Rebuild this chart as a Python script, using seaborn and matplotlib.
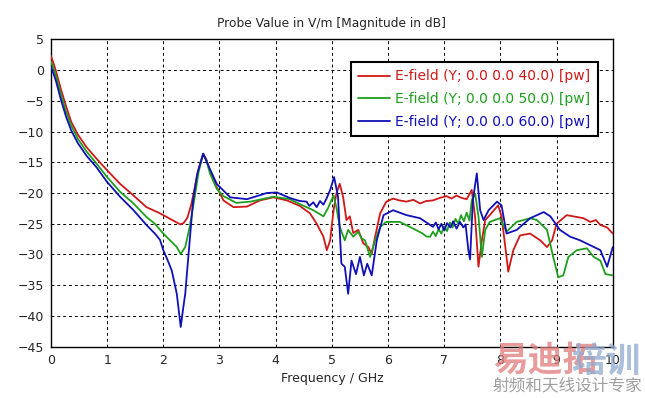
import numpy as np
import pandas as pd
import matplotlib
matplotlib.use("Agg")
import matplotlib.pyplot as plt
import seaborn as sns

# ── Données (GHz, dB) ───────────────────────────────────────────────────────
f_red = [0.0, 0.05, 0.09, 0.18, 0.27, 0.36, 0.48, 0.63, 0.81, 1.0, 1.23, 1.47,
         1.7, 1.94, 2.12, 2.2, 2.3, 2.36, 2.43, 2.5, 2.56, 2.63, 2.71, 2.77,
         2.83, 2.95, 3.07, 3.25, 3.49, 3.72, 3.96, 4.2, 4.43, 4.61, 4.73, 4.85,
         4.91, 4.97, 5.03, 5.08, 5.14, 5.2, 5.26, 5.32, 5.38, 5.47, 5.56, 5.65,
         5.71, 5.77, 5.86, 5.97, 6.09, 6.2, 6.33, 6.45, 6.57, 6.68, 6.8, 6.92,
         7.04, 7.13, 7.22, 7.31, 7.4, 7.49, 7.55, 7.61, 7.67, 7.73, 7.81, 7.96,
         8.02, 8.08, 8.14, 8.23, 8.35, 8.53, 8.71, 8.83, 8.92, 9.0, 9.18, 9.36,
         9.48, 9.6, 9.7, 9.78, 9.9, 10.0]
v_red = [2.3, 1.0, -0.2, -3.2, -5.9, -8.4, -10.5, -12.5, -14.4, -16.3, -18.5, -20.4,
         -22.3, -23.3, -24.2, -24.6, -25.1, -24.9, -24.0, -21.8, -19.1, -16.0, -13.6, -14.6,
         -16.3, -19.0, -21.2, -22.3, -22.2, -21.2, -20.7, -21.2, -22.1, -23.3, -25.0, -27.1,
         -29.3, -27.7, -22.8, -20.1, -18.5, -20.6, -24.4, -23.8, -26.5, -26.0, -28.2, -28.8,
         -29.9, -27.1, -23.3, -21.4, -20.9, -21.2, -21.4, -21.1, -21.7, -21.3, -21.2, -20.8,
         -20.5, -20.9, -20.4, -20.8, -21.0, -19.5, -23.9, -32.0, -27.7, -24.4, -23.6, -22.0,
         -23.8, -28.2, -32.8, -29.3, -26.9, -26.6, -27.7, -28.8, -27.7, -25.0, -23.6, -23.9,
         -24.1, -24.7, -24.4, -25.2, -25.6, -26.6]

f_green = [0.0, 0.05, 0.09, 0.18, 0.27, 0.36, 0.48, 0.63, 0.81, 1.0, 1.23, 1.47,
           1.7, 1.85, 2.0, 2.12, 2.24, 2.31, 2.39, 2.47, 2.56, 2.63, 2.71, 2.77,
           2.83, 2.95, 3.07, 3.3, 3.55, 3.96, 4.25, 4.43, 4.67, 4.85, 4.93, 5.03,
           5.08, 5.14, 5.23, 5.29, 5.38, 5.47, 5.53, 5.59, 5.68, 5.77, 5.86, 5.97,
           6.21, 6.45, 6.6, 6.69, 6.75, 6.8, 6.85, 6.9, 6.95, 7.0, 7.05, 7.1,
           7.15, 7.2, 7.25, 7.3, 7.35, 7.4, 7.45, 7.49, 7.55, 7.61, 7.67, 7.73,
           7.81, 7.99, 8.11, 8.29, 8.53, 8.65, 8.83, 8.94, 9.03, 9.12, 9.21, 9.36,
           9.54, 9.66, 9.78, 9.87, 10.0]
v_green = [1.4, 0.2, -1.0, -4.0, -6.8, -9.0, -11.2, -13.2, -15.2, -17.4, -19.8, -21.7,
           -23.9, -25.0, -26.6, -27.7, -28.8, -29.9, -28.8, -25.5, -20.6, -16.5, -13.6, -14.8,
           -16.8, -19.3, -20.5, -21.6, -21.4, -20.6, -21.0, -21.8, -22.8, -23.8, -22.5, -20.4,
           -22.3, -25.5, -27.7, -26.0, -27.1, -26.3, -27.4, -27.7, -30.4, -27.7, -25.5, -24.7,
           -24.7, -25.8, -26.5, -27.1, -27.1, -26.3, -27.0, -25.9, -26.6, -25.4, -26.2, -24.8,
           -25.6, -24.2, -25.0, -23.6, -24.6, -23.2, -24.5, -21.2, -20.1, -23.8, -30.4, -26.0,
           -24.7, -24.1, -26.3, -24.7, -24.1, -24.4, -26.0, -30.4, -33.7, -33.4, -30.4, -29.3,
           -29.0, -30.4, -31.0, -33.2, -33.4]

f_blue = [0.0, 0.05, 0.09, 0.18, 0.27, 0.36, 0.48, 0.63, 0.81, 1.0, 1.23, 1.47,
          1.7, 1.85, 1.94, 2.0, 2.08, 2.15, 2.24, 2.28, 2.31, 2.35, 2.39, 2.46,
          2.53, 2.6, 2.71, 2.8, 2.95, 3.19, 3.49, 3.84, 4.02, 4.25, 4.43, 4.55,
          4.6, 4.67, 4.73, 4.79, 4.85, 4.91, 4.97, 5.04, 5.11, 5.17, 5.23, 5.29,
          5.35, 5.43, 5.5, 5.57, 5.63, 5.71, 5.8, 5.92, 6.09, 6.33, 6.57, 6.8,
          6.85, 6.9, 6.95, 7.0, 7.05, 7.11, 7.16, 7.22, 7.28, 7.34, 7.38, 7.43,
          7.46, 7.51, 7.58, 7.64, 7.7, 7.79, 7.94, 8.02, 8.11, 8.29, 8.53, 8.77,
          8.89, 9.06, 9.24, 9.42, 9.6, 9.78, 9.9, 10.0]
v_blue = [0.6, -0.7, -1.8, -4.9, -7.6, -9.8, -11.9, -13.9, -15.8, -18.2, -20.6, -22.8,
          -25.2, -26.6, -27.6, -29.3, -31.0, -32.6, -36.4, -39.5, -41.8, -39.0, -36.4, -28.8,
          -21.2, -17.0, -13.6, -15.5, -18.5, -20.7, -21.0, -20.0, -19.9, -20.8, -21.3, -21.4,
          -22.1, -21.5, -22.3, -21.3, -21.9, -20.8, -19.5, -17.4, -20.6, -31.5, -32.0, -36.4,
          -31.0, -33.2, -30.4, -33.4, -31.5, -33.4, -27.7, -23.6, -22.8, -23.6, -24.1, -25.5,
          -24.8, -25.9, -25.0, -26.1, -24.9, -25.6, -24.6, -25.8, -24.7, -25.6, -25.1, -29.3,
          -30.8, -21.2, -16.8, -22.8, -24.4, -22.8, -21.4, -22.0, -26.6, -26.0, -24.1, -23.1,
          -23.8, -26.0, -27.1, -27.7, -28.5, -29.3, -32.0, -28.8]

labels = ["E-field (Y; 0.0 0.0 40.0) [pw]",
          "E-field (Y; 0.0 0.0 50.0) [pw]",
          "E-field (Y; 0.0 0.0 60.0) [pw]"]
colors = ["#d01818", "#1ea01e", "#1010b8"]

x_ticks = list(range(0, 11))
y_ticks = list(range(-45, 6, 5))

# ── Figure ──────────────────────────────────────────────────────────────────
sns.set_style("white")
plt.rcParams["font.family"] = ["DejaVu Sans"]

fig = plt.figure(figsize=(6.45, 3.98), dpi=100)
ax = fig.add_axes([0.079, 0.129, 0.871, 0.772])

series = [(f_red, v_red), (f_green, v_green), (f_blue, v_blue)]
for (fx, vy), lab, col in zip(series, labels, colors):
    df = pd.DataFrame({"f": fx, "v": vy})
    sns.lineplot(data=df, x="f", y="v", ax=ax, color=col, lw=1.3,
                 label=lab, estimator=None, sort=False, zorder=3)

ax.set_xlim(0, 10)
ax.set_ylim(-45, 5)
ax.set_xticks(x_ticks)
ax.set_yticks(y_ticks)
ax.tick_params(length=0, labelsize=9, pad=5)
ax.grid(True, color="black", ls=(0, (3, 3)), lw=0.7)
for s in ax.spines.values():
    s.set_color("black")
    s.set_linewidth(1.0)
ax.set_xlabel("Frequency / GHz", fontsize=9, labelpad=4)
ax.set_ylabel("")
ax.set_title("Probe Value in V/m [Magnitude in dB]", fontsize=8.8, pad=9)

leg = ax.legend(loc="upper right", bbox_to_anchor=(0.973, 0.925), borderaxespad=0,
                fontsize=10, frameon=True, fancybox=False, framealpha=1,
                handlelength=2.3, handletextpad=0.4, borderpad=0.5, labelspacing=0.62)
leg.get_frame().set_edgecolor("black")
leg.get_frame().set_linewidth(1.5)
for t, col in zip(leg.get_texts(), colors):
    t.set_color(col)

# filigrane
cjk = ["Noto Sans CJK SC", "DejaVu Sans"]
fig.text(0.764, 0.048, "易迪拓", fontsize=25, fontweight="bold", color="#e07a7a",
         alpha=0.75, family=cjk, ha="left", va="bottom", zorder=10)
fig.text(0.886, 0.048, "培训", fontsize=25, fontweight="bold", color="#8faad0",
         alpha=0.75, family=cjk, ha="left", va="bottom", zorder=10)
fig.text(0.764, 0.008, "射频和天线设计专家", fontsize=12, color="#a0a0a0",
         family=cjk, ha="left", va="bottom", zorder=10)

fig.savefig("out.png", dpi=100)
plt.close()
